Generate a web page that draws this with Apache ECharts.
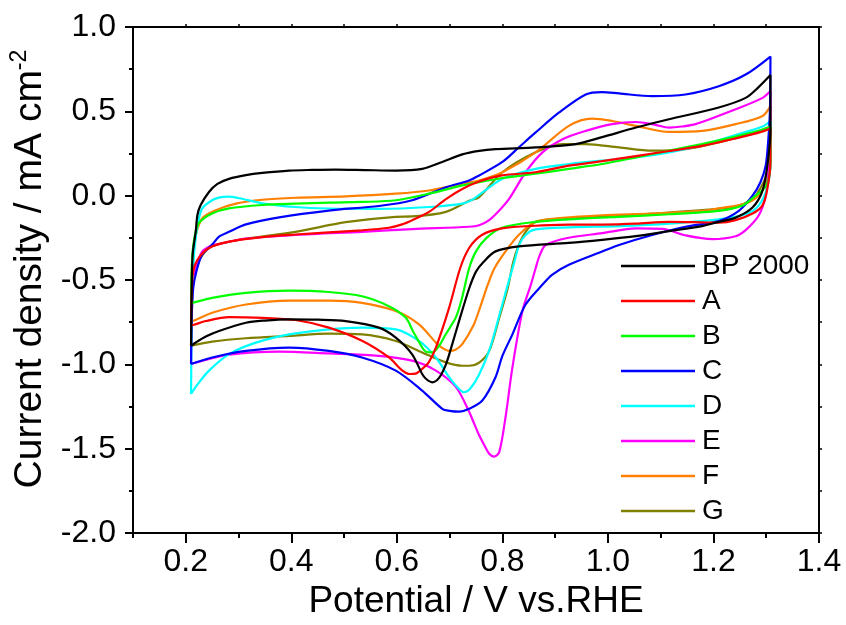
<!DOCTYPE html>
<html>
<head>
<meta charset="utf-8">
<script src="https://cdn.jsdelivr.net/npm/echarts@6/dist/echarts.min.js"></script>
<style>html,body{margin:0;padding:0;background:#fff}#c{width:846px;height:625px}</style>
</head>
<body>
<div id="c"></div>
<script>
// ---- data (Potential V vs RHE, current density mA cm^-2), closed CV loops ----
const seriesNames = ['BP 2000', 'A', 'B', 'C', 'D', 'E', 'F', 'G'];
const seriesColors = ['#000000', '#ff0000', '#00ff00', '#0000ff', '#00ffff', '#ff00ff', '#ff8000', '#808000'];
const xTickValues = [0.2, 0.4, 0.6, 0.8, 1.0, 1.2, 1.4];
const xMinorTickValues = [0.1, 0.3, 0.5, 0.7, 0.9, 1.1, 1.3];
const xTopTickValues = [0.2, 0.3, 0.4, 0.5, 0.6, 0.7, 0.8, 0.9, 1.0, 1.1, 1.2, 1.3];

const bp2000 = [
  [0.21,-0.89],[0.211,-0.6],[0.213,-0.35],[0.219,-0.21],[0.222,-0.116],[0.228,-0.057],[0.244,0.022],[0.26,0.07],[0.282,0.10],[0.314,0.122],[0.345,0.135],[0.396,0.149],[0.44,0.153],[0.484,0.155],[0.54,0.152],[0.598,0.149],[0.648,0.159],[0.686,0.2],[0.724,0.245],[0.756,0.266],[0.787,0.276],[0.863,0.286],[0.939,0.306],[0.989,0.347],[1.053,0.404],[1.116,0.453],[1.21,0.523],[1.261,0.58],[1.286,0.645],[1.308,0.715],
  [1.308,0.4],[1.303,0.2],[1.293,0.03],[1.274,-0.07],[1.242,-0.13],[1.21,-0.155],[1.178,-0.18],[1.116,-0.21],[1.053,-0.24],[0.989,-0.262],[0.926,-0.28],[0.831,-0.3],[0.787,-0.33],[0.765,-0.39],[0.75,-0.45],[0.737,-0.55],[0.718,-0.742],[0.705,-0.88],[0.693,-1.0],[0.68,-1.08],[0.667,-1.106],[0.655,-1.085],[0.648,-1.057],[0.629,-0.94],[0.598,-0.841],[0.566,-0.782],[0.503,-0.743],[0.45,-0.735],[0.396,-0.733],[0.35,-0.74],[0.314,-0.753],[0.263,-0.802],[0.238,-0.835],[0.219,-0.87],[0.21,-0.89]
];
const sampleA = [
  [0.21,-0.77],[0.211,-0.6],[0.214,-0.45],[0.222,-0.38],[0.244,-0.31],[0.282,-0.272],[0.345,-0.245],[0.408,-0.23],[0.534,-0.205],[0.585,-0.19],[0.61,-0.17],[0.629,-0.145],[0.661,-0.096],[0.693,-0.02],[0.724,0.04],[0.756,0.084],[0.799,0.12],[0.863,0.139],[0.926,0.178],[0.989,0.205],[1.053,0.235],[1.116,0.265],[1.178,0.295],[1.242,0.34],[1.292,0.38],[1.308,0.40],
  [1.308,0.2],[1.302,0.04],[1.293,-0.057],[1.274,-0.106],[1.242,-0.145],[1.21,-0.16],[1.178,-0.158],[1.116,-0.155],[1.053,-0.165],[0.989,-0.171],[0.926,-0.172],[0.863,-0.178],[0.799,-0.194],[0.761,-0.233],[0.737,-0.31],[0.72,-0.43],[0.699,-0.665],[0.674,-0.9],[0.66,-0.99],[0.648,-1.027],[0.635,-1.055],[0.625,-1.057],[0.61,-1.035],[0.585,-0.959],[0.534,-0.86],[0.471,-0.782],[0.408,-0.737],[0.345,-0.724],[0.282,-0.72],[0.238,-0.743],[0.216,-0.765],[0.21,-0.77]
];
const sampleB = [
  [0.21,-0.635],[0.211,-0.45],[0.214,-0.3],[0.219,-0.21],[0.225,-0.16],[0.25,-0.105],[0.282,-0.075],[0.345,-0.055],[0.408,-0.047],[0.471,-0.041],[0.534,-0.037],[0.598,-0.027],[0.661,0.012],[0.724,0.061],[0.756,0.08],[0.8,0.105],[0.863,0.13],[0.926,0.159],[0.989,0.188],[1.053,0.227],[1.116,0.267],[1.178,0.306],[1.242,0.35],[1.292,0.39],[1.308,0.41],
  [1.308,0.2],[1.3,0.06],[1.28,0.0],[1.254,-0.06],[1.21,-0.09],[1.116,-0.11],[1.021,-0.125],[0.926,-0.14],[0.863,-0.155],[0.799,-0.19],[0.77,-0.25],[0.75,-0.33],[0.737,-0.43],[0.724,-0.6],[0.712,-0.72],[0.693,-0.82],[0.68,-0.89],[0.667,-0.929],[0.655,-0.925],[0.648,-0.9],[0.63,-0.8],[0.617,-0.724],[0.585,-0.655],[0.534,-0.596],[0.471,-0.571],[0.396,-0.563],[0.314,-0.576],[0.25,-0.606],[0.216,-0.632],[0.21,-0.635]
];
const sampleC = [
  [0.21,-0.998],[0.211,-0.75],[0.214,-0.55],[0.22,-0.45],[0.231,-0.35],[0.25,-0.29],[0.263,-0.243],[0.282,-0.214],[0.314,-0.17],[0.377,-0.128],[0.471,-0.088],[0.566,-0.061],[0.629,-0.027],[0.693,0.05],[0.737,0.09],[0.756,0.12],[0.8,0.2],[0.831,0.286],[0.863,0.375],[0.907,0.492],[0.958,0.6],[0.989,0.614],[1.021,0.606],[1.084,0.59],[1.147,0.6],[1.21,0.649],[1.261,0.718],[1.308,0.825],
  [1.307,0.5],[1.304,0.335],[1.299,0.178],[1.289,0.08],[1.274,0.0],[1.248,-0.09],[1.21,-0.15],[1.147,-0.184],[1.084,-0.233],[1.021,-0.292],[0.989,-0.331],[0.926,-0.41],[0.894,-0.469],[0.876,-0.527],[0.844,-0.645],[0.819,-0.822],[0.8,-0.95],[0.787,-1.076],[0.762,-1.214],[0.737,-1.263],[0.718,-1.28],[0.7,-1.275],[0.686,-1.263],[0.648,-1.155],[0.598,-1.037],[0.534,-0.959],[0.471,-0.92],[0.396,-0.9],[0.314,-0.92],[0.25,-0.959],[0.21,-0.998]
];
const sampleD = [
  [0.21,-1.175],[0.211,-0.8],[0.213,-0.5],[0.217,-0.3],[0.224,-0.15],[0.231,-0.076],[0.25,-0.027],[0.265,-0.01],[0.28,-0.006],[0.301,-0.015],[0.345,-0.045],[0.408,-0.067],[0.471,-0.076],[0.566,-0.078],[0.661,-0.067],[0.724,-0.047],[0.745,-0.02],[0.8,0.1],[0.863,0.159],[0.926,0.188],[0.989,0.208],[1.053,0.227],[1.116,0.257],[1.178,0.3],[1.242,0.36],[1.293,0.41],[1.308,0.443],
  [1.308,0.2],[1.302,0.05],[1.286,-0.057],[1.261,-0.11],[1.21,-0.14],[1.116,-0.165],[1.021,-0.18],[0.926,-0.188],[0.863,-0.2],[0.845,-0.23],[0.832,-0.29],[0.822,-0.4],[0.81,-0.53],[0.795,-0.7],[0.777,-0.9],[0.756,-1.06],[0.74,-1.14],[0.727,-1.165],[0.713,-1.13],[0.699,-1.076],[0.674,-0.959],[0.642,-0.861],[0.598,-0.792],[0.534,-0.782],[0.471,-0.792],[0.396,-0.822],[0.333,-0.871],[0.282,-0.939],[0.244,-1.037],[0.222,-1.12],[0.21,-1.175]
];
const sampleE = [
  [0.21,-0.998],[0.211,-0.75],[0.214,-0.5],[0.222,-0.4],[0.231,-0.331],[0.244,-0.302],[0.257,-0.29],[0.282,-0.273],[0.314,-0.255],[0.408,-0.233],[0.534,-0.214],[0.629,-0.198],[0.737,-0.184],[0.756,-0.175],[0.775,-0.145],[0.795,-0.085],[0.813,-0.018],[0.844,0.139],[0.876,0.257],[0.914,0.335],[0.958,0.384],[1.008,0.424],[1.053,0.437],[1.09,0.42],[1.116,0.404],[1.14,0.41],[1.166,0.424],[1.242,0.512],[1.293,0.58],[1.308,0.62],
  [1.308,0.3],[1.304,0.14],[1.299,0.0],[1.286,-0.116],[1.261,-0.204],[1.242,-0.24],[1.198,-0.257],[1.147,-0.235],[1.103,-0.197],[1.053,-0.194],[0.989,-0.222],[0.926,-0.249],[0.882,-0.292],[0.87,-0.36],[0.863,-0.43],[0.854,-0.527],[0.838,-0.684],[0.819,-1.018],[0.806,-1.312],[0.794,-1.52],[0.784,-1.547],[0.775,-1.53],[0.766,-1.48],[0.756,-1.42],[0.745,-1.34],[0.737,-1.28],[0.712,-1.135],[0.674,-1.037],[0.629,-0.978],[0.566,-0.949],[0.471,-0.935],[0.377,-0.924],[0.282,-0.943],[0.212,-0.995],[0.21,-0.998]
];
const sampleF = [
  [0.21,-0.743],[0.211,-0.5],[0.214,-0.33],[0.219,-0.233],[0.231,-0.135],[0.257,-0.086],[0.295,-0.047],[0.345,-0.024],[0.408,-0.012],[0.503,-0.004],[0.598,0.012],[0.661,0.031],[0.724,0.071],[0.756,0.09],[0.8,0.139],[0.863,0.257],[0.926,0.414],[0.97,0.457],[1.008,0.443],[1.053,0.414],[1.116,0.378],[1.179,0.384],[1.242,0.424],[1.293,0.473],[1.308,0.531],
  [1.307,0.35],[1.304,0.178],[1.299,0.08],[1.286,0.002],[1.261,-0.047],[1.21,-0.075],[1.179,-0.09],[1.084,-0.106],[0.989,-0.116],[0.914,-0.131],[0.863,-0.155],[0.831,-0.233],[0.806,-0.33],[0.785,-0.43],[0.772,-0.53],[0.758,-0.66],[0.745,-0.77],[0.724,-0.88],[0.71,-0.915],[0.699,-0.92],[0.685,-0.9],[0.674,-0.871],[0.642,-0.763],[0.598,-0.684],[0.534,-0.635],[0.471,-0.622],[0.396,-0.622],[0.314,-0.645],[0.25,-0.694],[0.216,-0.74],[0.21,-0.743]
];
const sampleG = [
  [0.21,-0.89],[0.211,-0.65],[0.214,-0.48],[0.222,-0.4],[0.244,-0.31],[0.282,-0.273],[0.314,-0.255],[0.408,-0.214],[0.503,-0.157],[0.598,-0.125],[0.629,-0.123],[0.693,-0.096],[0.737,-0.03],[0.756,-0.008],[0.8,0.139],[0.863,0.257],[0.914,0.306],[0.958,0.306],[1.021,0.286],[1.084,0.267],[1.147,0.276],[1.21,0.316],[1.274,0.37],[1.308,0.41],
  [1.307,0.3],[1.303,0.15],[1.29,0.05],[1.274,-0.018],[1.242,-0.065],[1.179,-0.086],[1.084,-0.106],[0.989,-0.125],[0.914,-0.135],[0.863,-0.155],[0.844,-0.214],[0.83,-0.3],[0.82,-0.4],[0.81,-0.55],[0.794,-0.724],[0.775,-0.92],[0.756,-0.99],[0.737,-1.008],[0.724,-1.008],[0.693,-0.988],[0.648,-0.929],[0.598,-0.861],[0.534,-0.822],[0.471,-0.818],[0.396,-0.831],[0.314,-0.845],[0.25,-0.865],[0.212,-0.888],[0.21,-0.89]
];
const seriesData = [bp2000, sampleA, sampleB, sampleC, sampleD, sampleE, sampleF, sampleG];

const FONT = 'Liberation Sans, Arial, Helvetica, sans-serif';
const chart = echarts.init(document.getElementById('c'), null, {renderer: 'canvas'});
const axisLineStyle = {color: '#000', width: 2};

const option = {
  animation: false,
  backgroundColor: '#fff',
  grid: {left: 133, right: 27, top: 27, bottom: 88, containLabel: false},
  legend: {
    orient: 'vertical', left: 621, top: 252, padding: 0,
    itemWidth: 74, itemHeight: 2.5, itemGap: 7, icon: 'rect',
    textStyle: {fontFamily: FONT, fontSize: 28, color: '#000', lineHeight: 28, padding: [0, 0, 0, 2]},
    data: seriesNames
  },
  xAxis: [
    {
      type: 'value', min: 0.1, max: 1.4, position: 'bottom',
      axisLine: {show: true, onZero: false, lineStyle: axisLineStyle},
      axisTick: {show: true, inside: false, length: 10, lineStyle: {width: 2, color: '#000'}, customValues: xTickValues},
      axisLabel: {show: true, customValues: xTickValues, formatter: v => v.toFixed(1), fontFamily: FONT, fontSize: 32, color: '#000', margin: 13},
      splitLine: {show: false},
      name: 'Potential / V vs.RHE', nameLocation: 'middle', nameGap: 47,
      nameTextStyle: {fontFamily: FONT, fontSize: 37, color: '#000'}
    },
    {
      type: 'value', min: 0.1, max: 1.4, position: 'bottom',
      axisLine: {show: false, onZero: false},
      axisTick: {show: true, inside: false, length: 5, lineStyle: {width: 2, color: '#000'}, customValues: xMinorTickValues},
      axisLabel: {show: false}, splitLine: {show: false}
    },
    {
      type: 'value', min: 0.1, max: 1.4, position: 'top',
      axisLine: {show: true, onZero: false, lineStyle: axisLineStyle},
      axisTick: {show: true, inside: false, length: 3, lineStyle: {width: 1.5, color: '#000'}, customValues: xTopTickValues},
      axisLabel: {show: false}, splitLine: {show: false}
    }
  ],
  yAxis: [
    {
      type: 'value', min: -2, max: 1, interval: 0.5, position: 'left',
      axisLine: {show: true, onZero: false, lineStyle: axisLineStyle},
      axisTick: {show: true, inside: false, length: 8, lineStyle: {width: 2, color: '#000'}},
      minorTick: {show: true, splitNumber: 2, length: 4, lineStyle: {width: 2, color: '#000'}},
      axisLabel: {formatter: v => v.toFixed(1), fontFamily: FONT, fontSize: 32, color: '#000', margin: 17},
      splitLine: {show: false},
      name: 'Current density / mA cm{sup|-2}', nameLocation: 'middle', nameGap: 72, nameRotate: 90,
      nameTextStyle: {
        fontFamily: FONT, fontSize: 39, color: '#000', padding: [0, 0, 0, 22],
        rich: {sup: {fontFamily: FONT, fontSize: 23, color: '#000', verticalAlign: 'top', lineHeight: 44}}
      }
    },
    {
      type: 'value', min: -2, max: 1, interval: 0.25, position: 'right',
      axisLine: {show: true, onZero: false, lineStyle: axisLineStyle},
      axisTick: {show: true, inside: false, length: 3, lineStyle: {width: 1.5, color: '#000'}},
      axisLabel: {show: false}, splitLine: {show: false}
    }
  ],
  series: seriesNames.map((name, i) => ({
    name: name, type: 'line', xAxisIndex: 0, yAxisIndex: 0,
    data: seriesData[i], showSymbol: false, symbol: 'none', smooth: 0.3,
    color: seriesColors[i],
    lineStyle: {color: seriesColors[i], width: 2.2},
    itemStyle: {color: seriesColors[i]},
    z: 10 - i
  }))
};
chart.setOption(option);
</script>
</body>
</html>
